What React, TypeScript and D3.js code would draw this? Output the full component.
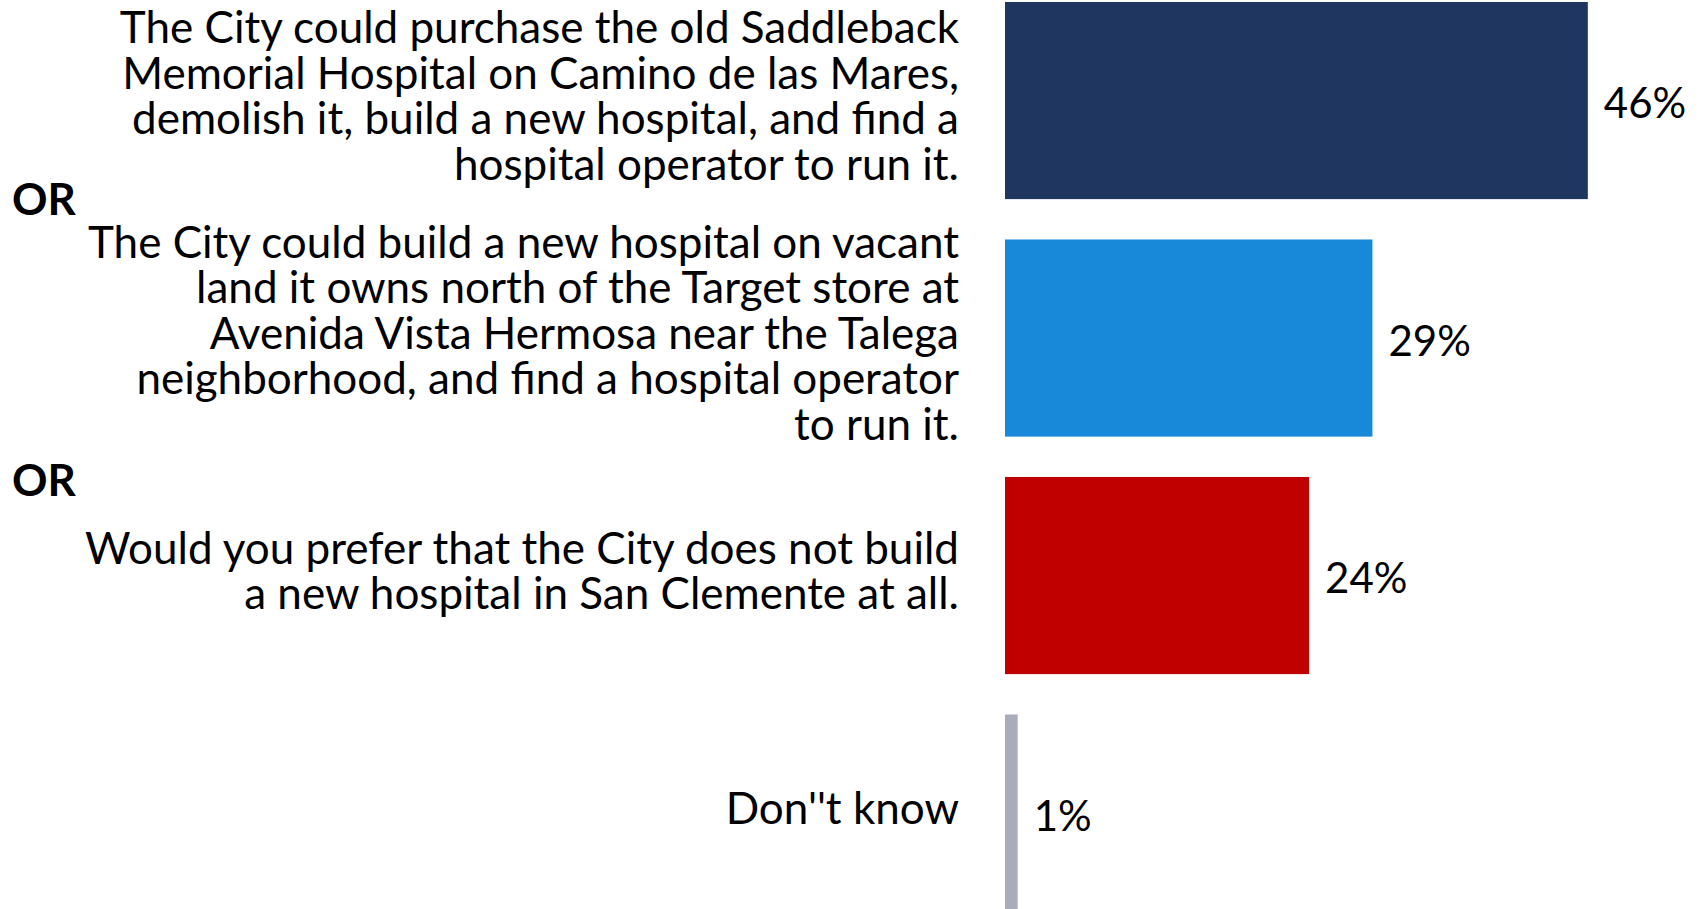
import React from "react";
import * as d3 from "d3";

const categories = ["purchase", "vacant", "notBuild", "dontKnow"];
const labelLines: string[][] = [
  [
    "The City could purchase the old Saddleback",
    "Memorial Hospital on Camino de las Mares,",
    "demolish it, build a new hospital, and find a",
    "hospital operator to run it.",
  ],
  [
    "The City could build a new hospital on vacant",
    "land it owns north of the Target store at",
    "Avenida Vista Hermosa near the Talega",
    "neighborhood, and find a hospital operator",
    "to run it.",
  ],
  [
    "Would you prefer that the City does not build",
    "a new hospital in San Clemente at all.",
  ],
  ["Don''t know"],
];
const values = [46, 29, 24, 1];
const colors = ["#1E3660", "#1888D8", "#C00000", "#A9ACBA"];
const separatorText = "OR";

const W = 1701;
const H = 909;
const FONT = "Lato, 'Open Sans', sans-serif";

export default function App() {
  const x = d3.scaleLinear().domain([0, 1]).range([1005, 1005 + 1267]);
  const y = d3
    .scaleBand<string>()
    .domain(categories)
    .range([-38.4, 952])
    .paddingInner(0.17)
    .paddingOuter(0.17);
  const bw = y.bandwidth();
  const lineH = 45.5;
  const fs = 44;

  return (
    <svg
      width={W}
      height={H}
      style={{ position: "absolute", left: 0, top: 0, background: "#fff" }}
      fontFamily={FONT}
    >
      <rect x={0} y={0} width={W} height={H} fill="#fff" />
      {categories.map((c, i) => {
        const y0 = y(c) as number;
        const cy = y0 + bw / 2;
        const lines = labelLines[i];
        const firstCenter = cy - 5 - ((lines.length - 1) / 2) * lineH;
        return (
          <g key={c}>
            <rect
              x={x(0)}
              y={y0}
              width={x(values[i] / 100) - x(0)}
              height={bw}
              fill={colors[i]}
            />
            <text
              x={x(values[i] / 100) + 16}
              y={cy + 17.6}
              fontSize={42}
              fill="#000"
            >
              {values[i]}%
            </text>
            <text textAnchor="end" fontSize={fs} fill="#000">
              {lines.map((l, j) => (
                <tspan key={j} x={959} y={firstCenter + j * lineH + 15.8}>
                  {l}
                </tspan>
              ))}
            </text>
          </g>
        );
      })}
      <text
        x={12}
        y={(y(categories[1]) as number) - 24}
        fontSize={44}
        fontWeight="bold"
        fill="#000"
      >
        {separatorText}
      </text>
      <text
        x={12}
        y={(y(categories[2]) as number) + 19}
        fontSize={44}
        fontWeight="bold"
        fill="#000"
      >
        {separatorText}
      </text>
    </svg>
  );
}
